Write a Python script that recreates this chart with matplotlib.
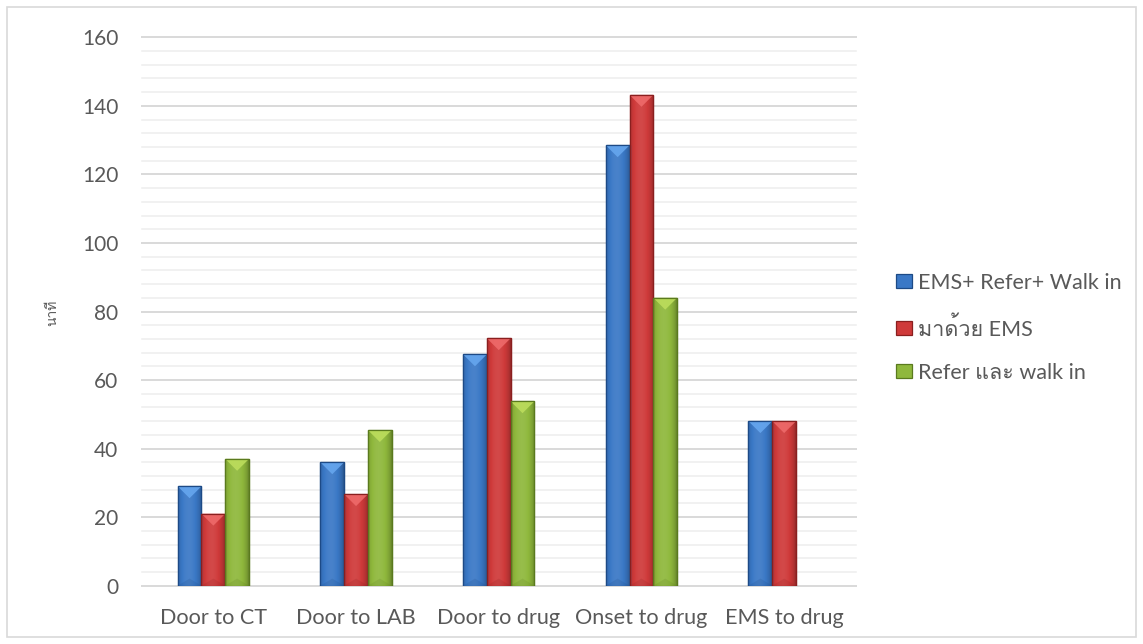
import matplotlib
matplotlib.use("Agg")
import matplotlib.pyplot as plt
from matplotlib import font_manager
from matplotlib.patches import Polygon, Rectangle
from matplotlib.colors import to_rgb
import numpy as np

# ---- data (minutes) ----
categories = ["Door to CT", "Door to LAB", "Door to drug", "Onset to drug", "EMS to drug"]
series_names = ["EMS+ Refer+ Walk in", "มาด้วย EMS", "Refer และ walk in"]
all_arrivals = [29, 36, 67.5, 128.5, 48]
ems_arrivals = [21, 26.7, 72.2, 143.2, 48]
refer_walkin = [37, 45.4, 53.8, 84, np.nan]
y_label = "นาที"
y_ticks = [0, 20, 40, 60, 80, 100, 120, 140, 160]


def find_thai_family():
    """Return the name of an installed font that can draw Thai script."""
    try:
        from fontTools.ttLib import TTFont
    except Exception:
        return None
    for entry in font_manager.fontManager.ttflist:
        try:
            font = TTFont(entry.fname, fontNumber=0, lazy=True)
            cmap = font.getBestCmap()
        except Exception:
            continue
        if cmap and all(c in cmap for c in (0x0E19, 0x0E32, 0x0E17, 0x0E35, 0x0E49)):
            return entry.name
    return None


thai = find_thai_family()
families = ["Lato"] + ([thai] if thai else []) + ["DejaVu Sans"]
plt.rcParams["font.family"] = families

W, H, DPI = 1143, 644, 100
fig = plt.figure(figsize=(W / DPI, H / DPI), dpi=DPI)
fig.patch.set_facecolor("white")

# light outer frame of the chart area
fig.patches.append(Rectangle((7 / W, 7 / H), (1136 - 7) / W, (637 - 7) / H,
                             transform=fig.transFigure, fill=False,
                             edgecolor="#D9D9D9", linewidth=1.2))

left, right = 142 / W, 855.5 / W
top_px, bottom_px = 37.3, 585.7
ax = fig.add_axes([left, 1 - bottom_px / H, right - left, (bottom_px - top_px) / H])
ax.set_xlim(-0.5, len(categories) - 0.5)
ax.set_ylim(0, 160)

# grid: major every 20, minor every 4
for v in np.arange(0, 161, 4):
    major = v % 20 == 0
    ax.axhline(v, color="#D9D9D9" if major else "#EEEEEE",
               lw=1.4 if major else 1.1, zorder=0.5, clip_on=False)
for s in ax.spines.values():
    s.set_visible(False)
ax.set_yticks(y_ticks)
ax.set_xticks(range(len(categories)))
ax.set_xticklabels(categories)
ax.tick_params(axis="y", length=0, pad=17, labelsize=15, labelcolor="#595959")
ax.tick_params(axis="x", length=0, pad=16, labelsize=15.6, labelcolor="#595959")

bar_w = 1 / 6
palettes = [
    # base, dark edge, light top facet
    ("#3A78C6", "#1D4A86", "#66A6EE"),
    ("#CF3A3A", "#8A1F1F", "#EE6A6A"),
    ("#8FB83C", "#5A7A1E", "#BCDD5C"),
]
series_values = [all_arrivals, ems_arrivals, refer_walkin]
x = np.arange(len(categories))

# pixels per data unit, for the bevel facets
y_px_per_unit = (bottom_px - top_px) / 160
x_px_per_unit = (right - left) * W / len(categories)


def shade(rgb, f):
    rgb = np.array(rgb)
    if f >= 1:
        return rgb + (1 - rgb) * (f - 1)
    return rgb * f


for i, (vals, (base, dark, light)) in enumerate(zip(series_values, palettes)):
    offs = (i - 1) * bar_w
    bars = ax.bar(x + offs, vals, width=bar_w, color=base, edgecolor=dark,
                  linewidth=0.9, zorder=2, label=series_names[i])
    base_rgb = to_rgb(base)
    # horizontal shading across the bar face
    prof = np.linspace(0, 1, 60)
    fac = 0.80 + 0.32 * np.sin(np.pi * prof) ** 0.6 - 0.10 * prof
    grad = np.array([np.clip(shade(base_rgb, f), 0, 1) for f in fac])[None, :, :]
    for b in bars:
        h = b.get_height()
        if not np.isfinite(h) or h <= 0:
            continue
        x0, w = b.get_x(), b.get_width()
        ax.imshow(grad, extent=(x0, x0 + w, 0, h), aspect="auto",
                  interpolation="bilinear", zorder=2.1)
        ax.add_patch(Rectangle((x0, 0), w, h, fill=False, edgecolor=dark,
                               linewidth=0.9, zorder=2.3))
        # top facet
        half_px = w * x_px_per_unit / 2
        dy = half_px / y_px_per_unit
        ax.add_patch(Polygon([(x0, h), (x0 + w, h), (x0 + w / 2, h - dy)],
                             closed=True, facecolor=light, edgecolor="none",
                             alpha=0.9, zorder=2.2))
        # faint bottom facet
        ax.add_patch(Polygon([(x0, 0), (x0 + w, 0), (x0 + w / 2, dy * 0.6)],
                             closed=True, facecolor=dark, edgecolor="none",
                             alpha=0.18, zorder=2.2))

ax.set_xlim(-0.5, len(categories) - 0.5)
ax.set_ylim(0, 160)

# y-axis title
fig.text(52 / W, 1 - 313 / H, y_label, rotation=90, ha="center", va="center",
         fontsize=10, color="#595959")

# legend
handles = [Rectangle((0, 0), 1, 1, facecolor=p[0], edgecolor=p[1], linewidth=0.9)
           for p in palettes]
fig.legend(handles, series_names, loc="center left",
           bbox_to_anchor=(896 / W, 1 - 328 / H), frameon=False,
           fontsize=15.5, labelcolor="#595959", handlelength=0.72,
           handleheight=0.62, handletextpad=0.3, labelspacing=1.08,
           borderaxespad=0, borderpad=0)

fig.savefig("out.png", dpi=DPI, facecolor="white")
